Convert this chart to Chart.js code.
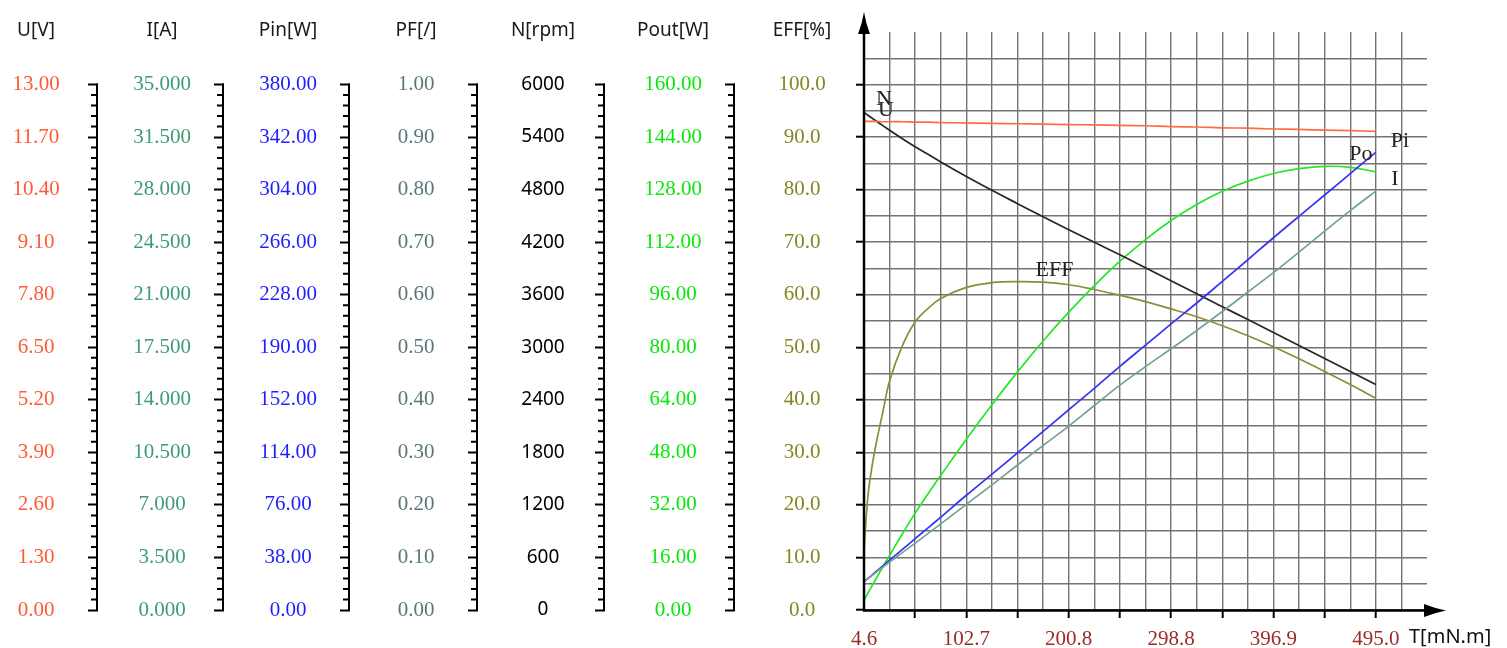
<!DOCTYPE html>
<html>
<head>
<meta charset="utf-8">
<title>Motor performance curves</title>
<script src="https://cdn.jsdelivr.net/npm/chart.js@4.4.1/dist/chart.umd.min.js"></script>
<style>
  html, body { margin: 0; padding: 0; background: #fff; }
  canvas { display: block; }
</style>
</head>
<body>
<canvas id="curves" width="1507" height="648"></canvas>
<script>
// torque points along the x axis, mN.m
const torque = [4.6, 8.3, 12.0, 16.9, 23.0, 29.1, 41.4, 53.6, 66.0, 78.2, 102.7, 127.2, 151.7, 176.2,
    200.8, 225.3, 249.8, 274.3, 298.8, 323.4, 347.9, 372.4, 396.9, 421.4, 446.0, 470.5, 495.0];

// curves, one value per torque point
const voltage = [12.09, 12.09, 12.09, 12.09, 12.08, 12.08, 12.08, 12.07, 12.07, 12.06, 12.05, 12.04, 12.03, 12.02,
    12.01, 12.00, 11.99, 11.98, 11.96, 11.95, 11.93, 11.92, 11.90, 11.89, 11.87, 11.86, 11.84];
const current = [1.89, 2.10, 2.28, 2.56, 2.87, 3.19, 3.82, 4.45, 5.10, 5.74, 7.04, 8.33, 9.66, 10.96,
    12.25, 13.62, 14.98, 16.21, 17.40, 18.62, 19.88, 21.18, 22.47, 23.84, 25.24, 26.60, 27.90];
const powerIn = [20.5, 22.8, 25.1, 28.3, 32.1, 36.0, 43.8, 51.6, 59.4, 67.2, 83.0, 98.2, 113.6, 129.2,
    144.8, 160.3, 176.2, 191.5, 206.9, 222.0, 237.6, 253.3, 269.2, 284.7, 300.1, 315.6, 331.0];
const speed = [5682, 5650, 5619, 5578, 5528, 5478, 5382, 5290, 5203, 5116, 4950, 4792, 4640, 4490,
    4342, 4198, 4056, 3908, 3760, 3612, 3464, 3316, 3168, 3020, 2872, 2724, 2574];
const powerOut = [3.0, 5.1, 7.2, 9.9, 13.4, 16.6, 23.2, 29.5, 35.4, 41.0, 52.0, 62.5, 72.5, 81.9,
    90.7, 98.8, 106.2, 112.8, 118.6, 123.5, 127.5, 130.6, 132.9, 134.4, 135.1, 134.8, 133.4];
const efficiency = [11.4, 21.5, 27.0, 32.3, 38.0, 43.6, 50.3, 54.8, 57.4, 59.3, 61.4, 62.3, 62.5, 62.4,
    61.9, 61.0, 59.9, 58.7, 57.3, 55.8, 54.1, 52.2, 50.1, 47.8, 45.4, 42.9, 40.3];

// tick labels of the value columns and of the torque axis
const uTicks = ['0.00', '1.30', '2.60', '3.90', '5.20', '6.50', '7.80', '9.10', '10.40', '11.70', '13.00'];
const iTicks = ['0.000', '3.500', '7.000', '10.500', '14.000', '17.500', '21.000', '24.500', '28.000', '31.500', '35.000'];
const pinTicks = ['0.00', '38.00', '76.00', '114.00', '152.00', '190.00', '228.00', '266.00', '304.00', '342.00', '380.00'];
const pfTicks = ['0.00', '0.10', '0.20', '0.30', '0.40', '0.50', '0.60', '0.70', '0.80', '0.90', '1.00'];
const nTicks = ['0', '600', '1200', '1800', '2400', '3000', '3600', '4200', '4800', '5400', '6000'];
const poutTicks = ['0.00', '16.00', '32.00', '48.00', '64.00', '80.00', '96.00', '112.00', '128.00', '144.00', '160.00'];
const effTicks = ['0.0', '10.0', '20.0', '30.0', '40.0', '50.0', '60.0', '70.0', '80.0', '90.0', '100.0'];
const xLabels = ['4.6', '102.7', '200.8', '298.8', '396.9', '495.0'];

const SERIF = "'Liberation Serif', serif";
const SANS = "'Noto Sans', sans-serif";
const GRID = '#737373';
const LABEL_OFFSET = 62; // distance from ruler to the centre of its labels

const columns = [
    { id: 'u', title: 'U[V]', ticks: uTicks, color: '#FF5A36', width: 98 },
    { id: 'i', title: 'I[A]', ticks: iTicks, color: '#3E9B74', width: 126 },
    { id: 'pin', title: 'Pin[W]', ticks: pinTicks, color: '#1E1EFF', width: 126 },
    { id: 'pf', title: 'PF[/]', ticks: pfTicks, color: '#587878', width: 128 },
    { id: 'n', title: 'N[rpm]', ticks: nTicks, color: '#000', width: 127, sans: true },
    { id: 'pout', title: 'Pout[W]', ticks: poutTicks, color: '#0BE60B', width: 130 },
    { id: 'eff', title: 'EFF[%]', ticks: effTicks, color: '#858522', width: 129 }
];

const series = [
    { label: 'U', axis: 'u', values: voltage, color: '#FF6B45' },
    { label: 'I', axis: 'i', values: current, color: '#74A292' },
    { label: 'Pin', axis: 'pin', values: powerIn, color: '#3434F2' },
    { label: 'N', axis: 'n', values: speed, color: '#262626' },
    { label: 'Pout', axis: 'pout', values: powerOut, color: '#26E626' },
    { label: 'EFF', axis: 'eff', values: efficiency, color: '#8C8C3A' }
];

// curve names written next to the lines
const lastPoint = torque.length - 1;
const tags = [
    { text: 'N', series: 3, at: 0, dx: 20, dy: -13 },
    { text: 'U', series: 0, at: 0, dx: 22, dy: -11 },
    { text: 'EFF', series: 5, at: 12, dx: 37, dy: -11 },
    { text: 'Pi', series: 2, at: lastPoint, dx: 24, dy: -11 },
    { text: 'Po', series: 4, at: lastPoint, dx: -15, dy: -18 },
    { text: 'I', series: 1, at: lastPoint, dx: 19, dy: -12 }
];

const measure = document.createElement('canvas').getContext('2d');
function widest(labels, font) {
    measure.font = font;
    return Math.max(...labels.map(l => measure.measureText(l).width));
}

function columnAxis(col, weight) {
    const top = parseFloat(col.ticks[col.ticks.length - 1]);
    const isEff = col.id === 'eff';
    const tickLength = isEff ? 8 : 10;
    const font = { family: col.sans ? SANS : SERIF, size: col.sans ? 19 : 21 };
    const padding = LABEL_OFFSET - tickLength - widest(col.ticks, `${font.size}px ${font.family}`) / 2;

    return {
        type: 'linear',
        position: 'left',
        weight,
        min: 0,
        max: top * 1.1,
        bounds: 'data',
        border: { display: false },
        grid: isEff
            ? {
                color: GRID, lineWidth: 1.4, tickLength, tickWidth: 2,
                tickColor: c => (c.index % 2 ? 'rgba(0,0,0,0)' : '#000')
            }
            : { drawOnChartArea: false, tickLength, tickWidth: 2, tickColor: '#000' },
        ticks: {
            color: col.color,
            font,
            padding,
            crossAlign: 'center',
            autoSkip: false,
            callback: isEff ? (v, i) => (i % 2 ? '' : col.ticks[i / 2]) : (v, i) => col.ticks[i]
        },
        afterBuildTicks: s => {
            const step = parseFloat(col.ticks[1]);
            s.ticks = isEff
                ? Array.from({ length: col.ticks.length * 2 }, (_, i) => ({ value: i * step / 2 }))
                : col.ticks.map(t => ({ value: parseFloat(t) }));
        },
        afterFit: s => {
            s.width = col.width;
            s.paddingTop = 0;
            s.paddingBottom = 0;
        }
    };
}

const x0 = parseFloat(xLabels[0]);
const cell = (parseFloat(xLabels[xLabels.length - 1]) - x0) / ((xLabels.length - 1) * 4);

const scales = {
    x: {
        type: 'linear',
        position: 'bottom',
        min: x0,
        max: x0 + 22 * cell,
        bounds: 'data',
        border: { display: false },
        grid: {
            color: GRID, lineWidth: 1.4, tickLength: 8, tickWidth: 2,
            tickColor: c => (c.index % 2 === 0 && c.index > 0 && c.index <= 20 ? '#000' : 'rgba(0,0,0,0)')
        },
        ticks: {
            color: '#9A2A2A',
            font: { family: SERIF, size: 21 },
            padding: 9,
            autoSkip: false,
            maxRotation: 0,
            minRotation: 0,
            callback: (v, i) => (i % 4 ? '' : xLabels[i / 4])
        },
        afterBuildTicks: s => {
            s.ticks = Array.from({ length: 22 }, (_, i) => ({ value: x0 + i * cell }));
        },
        afterFit: s => {
            s.height = 38;
            s.paddingLeft = 0;
            s.paddingRight = 0;
        }
    }
};
columns.forEach((col, i) => { scales[col.id] = columnAxis(col, columns.length - i); });

// rulers, titles, arrowed axes and curve names
const decorations = {
    id: 'decorations',
    afterDraw(chart) {
        const { ctx, chartArea: { left, right, top, bottom }, scales: sc } = chart;
        ctx.save();

        ctx.textAlign = 'center';
        ctx.textBaseline = 'middle';
        columns.forEach(col => {
            const s = sc[col.id];
            ctx.fillStyle = '#1a1a1a';
            ctx.font = `19px ${SANS}`;
            ctx.fillText(col.title, s.right - LABEL_OFFSET, 31);
            if (col.id === 'eff') return;

            const step = parseFloat(col.ticks[1]);
            const lo = s.getPixelForValue(0);
            const hi = s.getPixelForValue(parseFloat(col.ticks[col.ticks.length - 1]));
            ctx.strokeStyle = '#000';
            ctx.lineWidth = 2;
            ctx.beginPath();
            ctx.moveTo(s.right - 1, hi - 1);
            ctx.lineTo(s.right - 1, lo + 1);
            for (let i = 1; i < (col.ticks.length - 1) * 5; i++) {
                if (i % 5 === 0) continue;
                const y = s.getPixelForValue(i * step / 5);
                ctx.moveTo(s.right - 7, y);
                ctx.lineTo(s.right, y);
            }
            ctx.stroke();
        });

        // axes with arrow heads
        ctx.strokeStyle = '#000';
        ctx.fillStyle = '#000';
        ctx.lineWidth = 2.5;
        ctx.beginPath();
        ctx.moveTo(left, bottom + 1.5);
        ctx.lineTo(left, top - 4);
        ctx.moveTo(left - 1, bottom + 0.5);
        ctx.lineTo(right + 2, bottom + 0.5);
        ctx.stroke();

        ctx.beginPath();
        ctx.moveTo(left, top - 20);
        ctx.quadraticCurveTo(left + 2, top - 8, left + 6, top + 2);
        ctx.lineTo(left - 6, top + 2);
        ctx.quadraticCurveTo(left - 2, top - 8, left, top - 20);
        ctx.fill();

        ctx.beginPath();
        ctx.moveTo(right + 19, bottom + 0.5);
        ctx.quadraticCurveTo(right + 7, bottom + 3, right - 3, bottom + 7);
        ctx.lineTo(right - 3, bottom - 6);
        ctx.quadraticCurveTo(right + 7, bottom - 2, right + 19, bottom + 0.5);
        ctx.fill();

        ctx.font = `20px ${SANS}`;
        ctx.textAlign = 'left';
        ctx.fillStyle = '#111';
        ctx.fillText('T[mN.m]', right - 18, 637);

        ctx.font = `22px ${SERIF}`;
        ctx.textAlign = 'center';
        ctx.fillStyle = '#222';
        tags.forEach(tag => {
            const pt = chart.getDatasetMeta(tag.series).data[tag.at];
            ctx.fillText(tag.text, pt.x + tag.dx, pt.y + tag.dy);
        });

        ctx.restore();
    }
};

new Chart(document.getElementById('curves'), {
    type: 'line',
    plugins: [decorations],
    data: {
        datasets: series.map(s => ({
            label: s.label,
            yAxisID: s.axis,
            data: torque.map((t, i) => ({ x: t, y: s.values[i] })),
            borderColor: s.color,
            borderWidth: 1.7,
            pointRadius: 0,
            fill: false,
            tension: 0.4
        }))
    },
    options: {
        responsive: false,
        animation: false,
        layout: { padding: { left: 0, top: 32, right: 80, bottom: 0 } },
        plugins: {
            legend: { display: false },
            tooltip: { enabled: false }
        },
        scales
    }
});
</script>
</body>
</html>
